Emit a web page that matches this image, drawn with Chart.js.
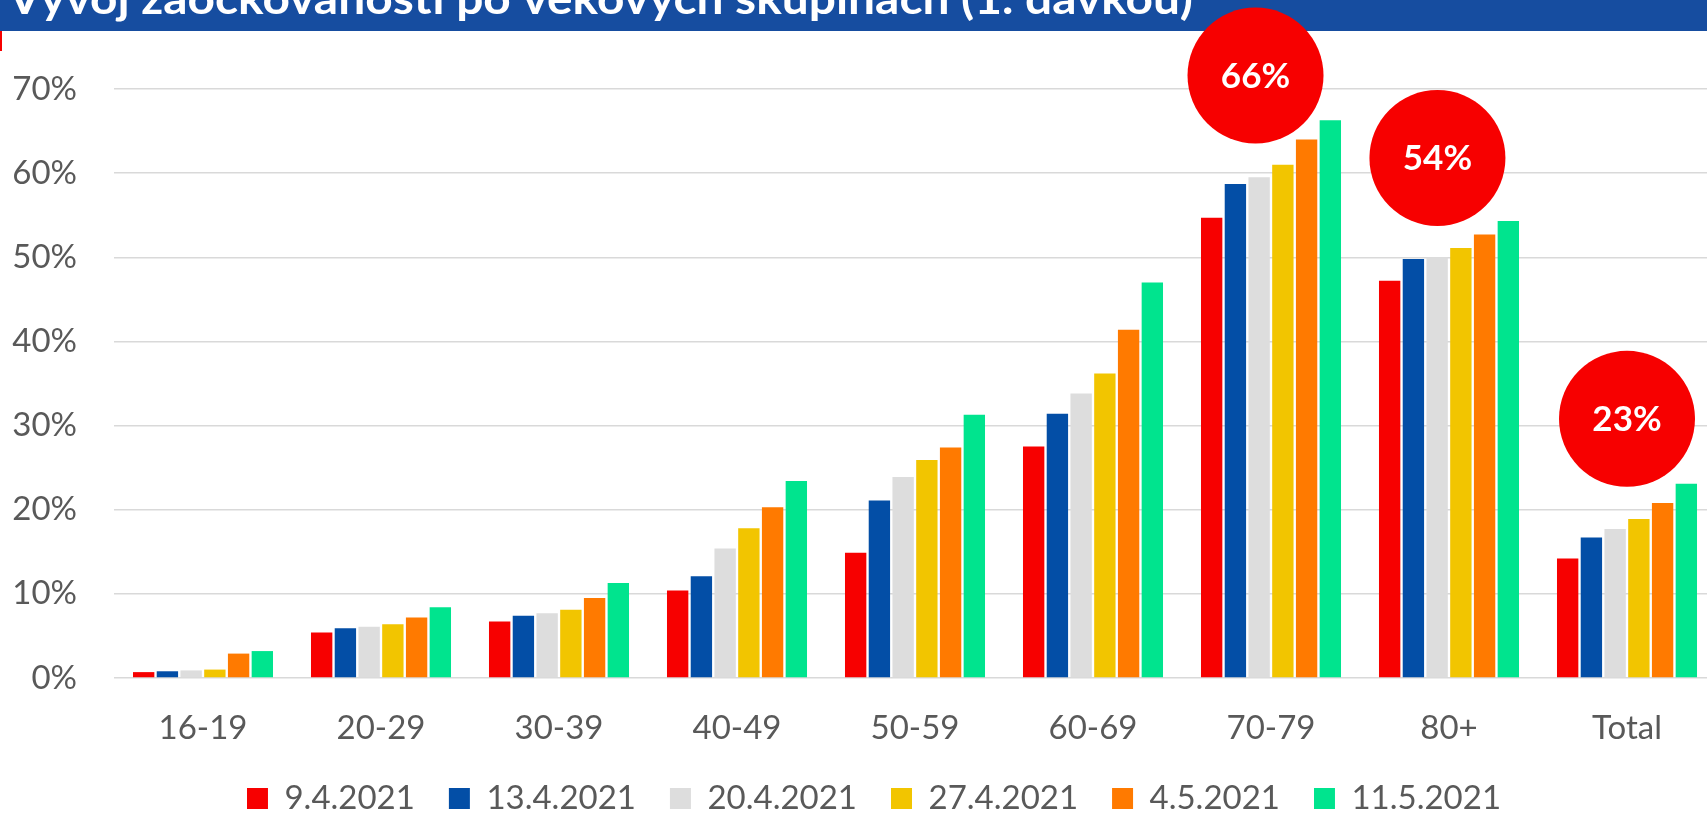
<!DOCTYPE html>
<html>
<head>
<meta charset="utf-8">
<script src="https://cdn.jsdelivr.net/npm/chart.js@4.4.0/dist/chart.umd.min.js"></script>
<style>
  html, body { margin: 0; padding: 0; overflow: hidden; background: #fff; }
  #wrap { position: absolute; left: 0; top: 0; width: 1716px; height: 825px; }
</style>
</head>
<body>
<div id="wrap"><canvas id="vaxChart"></canvas></div>
<script>
const categories = ['16-19', '20-29', '30-39', '40-49', '50-59', '60-69', '70-79', '80+', 'Total'];
const dates = ['9.4.2021', '13.4.2021', '20.4.2021', '27.4.2021', '4.5.2021', '11.5.2021'];

// % of age group with first dose
const apr09 = [0.7, 5.4, 6.7, 10.4, 14.9, 27.5, 54.7, 47.2, 14.2];
const apr13 = [0.8, 5.9, 7.4, 12.1, 21.1, 31.4, 58.7, 49.8, 16.7];
const apr20 = [0.9, 6.1, 7.7, 15.4, 23.9, 33.8, 59.5, 50.0, 17.7];
const apr27 = [1.0, 6.4, 8.1, 17.8, 25.9, 36.2, 61.0, 51.1, 18.9];
const may04 = [2.9, 7.2, 9.5, 20.3, 27.4, 41.4, 64.0, 52.7, 20.8];
const may11 = [3.2, 8.4, 11.3, 23.4, 31.3, 47.0, 66.3, 54.3, 23.1];

const yTicks = [0, 10, 20, 30, 40, 50, 60, 70];

// red callouts
const bubbleText = ['66%', '54%', '23%'];
const bubbleGroup = ['70-79', '80+', 'Total'];

const colors = ['#f70000', '#034ea6', '#dddddd', '#f2c500', '#ff7a00', '#00e48e'];
const seriesData = [apr09, apr13, apr20, apr27, may04, may11];

const title = 'Vývoj zaočkovanosti po věkových skupinách (1. dávkou)';
const font = 'Lato, "Noto Sans", sans-serif';

const banner = {
  id: 'banner',
  beforeDraw(chart) {
    const ctx = chart.ctx;
    ctx.save();
    ctx.fillStyle = '#164da0';
    ctx.fillRect(0, 0, chart.width, 31);
    ctx.fillStyle = '#f70000';
    ctx.fillRect(0, 31, 2, 20);
    ctx.fillStyle = '#ffffff';
    ctx.font = 'bold 44px ' + font;
    ctx.textBaseline = 'alphabetic';
    // squeeze/stretch so the line ends where the original does
    const w = ctx.measureText(title).width;
    ctx.translate(8, 14);
    ctx.scale(1185 / w, 1);
    ctx.fillText(title, 0, 0);
    ctx.restore();
  }
};

// legend in the original sits a bit right of centre
const legendShift = {
  id: 'legendShift',
  afterLayout(chart) {
    chart.legend.left += 16;
    chart.legend.right += 16;
  }
};

const bubbles = {
  id: 'bubbles',
  afterDraw(chart, args, opts) {
    const ctx = chart.ctx;
    const x = chart.scales.x, y = chart.scales.y;
    const step = x.getPixelForValue(1) - x.getPixelForValue(0);
    ctx.save();
    bubbleText.forEach((t, i) => {
      const cx = x.getPixelForValue(categories.indexOf(bubbleGroup[i])) + opts.shift[i] * step;
      const cy = y.getPixelForValue(opts.level[i]);
      ctx.beginPath();
      ctx.arc(cx, cy, opts.radius, 0, Math.PI * 2);
      ctx.fillStyle = '#f70000';
      ctx.fill();
      ctx.fillStyle = '#ffffff';
      ctx.font = 'bold 35px ' + font;
      ctx.textAlign = 'center';
      ctx.textBaseline = 'middle';
      ctx.fillText(t, cx, cy + 1);
    });
    ctx.restore();
  }
};

new Chart(document.getElementById('vaxChart'), {
  type: 'bar',
  data: {
    labels: categories,
    datasets: dates.map((d, i) => ({
      label: d,
      data: seriesData[i],
      backgroundColor: colors[i],
      borderWidth: 0
    }))
  },
  options: {
    responsive: true,
    maintainAspectRatio: false,
    animation: false,
    layout: { padding: { top: 89, right: 0, bottom: 0, left: 0 } },
    scales: {
      x: {
        grid: { display: false },
        border: { display: false },
        ticks: { color: '#595959', font: { family: font, size: 33 }, padding: 23 },
        afterFit: s => { s.height = 70; }
      },
      y: {
        min: 0,
        max: 70,
        afterBuildTicks: s => { s.ticks = yTicks.map(v => ({ value: v })); },
        grid: { color: '#d9d9d9', lineWidth: 1.5, drawTicks: false },
        border: { display: false },
        ticks: {
          color: '#595959',
          font: { family: font, size: 33 },
          padding: 37,
          callback: v => v + '%'
        },
        afterFit: s => { s.width = 114; }
      }
    },
    plugins: {
      legend: {
        position: 'bottom',
        labels: {
          boxWidth: 21,
          boxHeight: 21,
          padding: 34,
          color: '#595959',
          font: { family: font, size: 33 }
        }
      },
      tooltip: { enabled: false },
      bubbles: { radius: 68, shift: [-0.087, -0.065, 0], level: [71.6, 61.8, 30.8] }
    }
  },
  plugins: [banner, legendShift, bubbles]
});
</script>
</body>
</html>
